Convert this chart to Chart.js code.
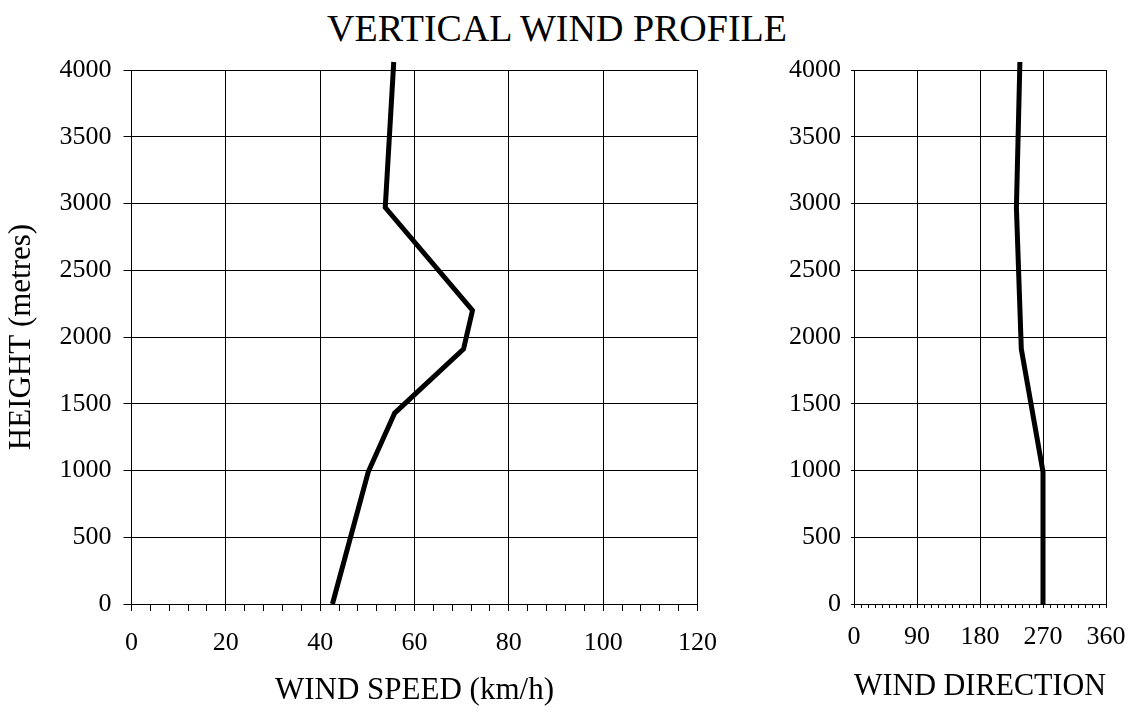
<!DOCTYPE html>
<html>
<head>
<meta charset="utf-8">
<script src="https://cdn.jsdelivr.net/npm/chart.js@4.4.0/dist/chart.umd.min.js"></script>
<style>
  body { margin: 0; background: #fff; }
  #wrap { position: relative; width: 1137px; height: 713px; overflow: hidden; }
  #title { position: absolute; left: 0; top: 5px; width: 1114px; text-align: center;
           font-family: "Liberation Serif", serif; font-size: 38px; line-height: 46px; color: #000; }
  #speedChart { position: absolute; left: 0; top: 0; }
  #dirChart { position: absolute; left: 740px; top: 0; }
</style>
</head>
<body>
<div id="wrap">
  <div id="title">VERTICAL WIND PROFILE</div>
  <canvas id="speedChart" width="740" height="713"></canvas>
  <canvas id="dirChart" width="397" height="713"></canvas>
</div>
<script>
// высоты и значения
const speedHeights = [0, 990, 1430, 1910, 2200, 2970, 4060];
const speedValues = [42.6, 50.2, 55.8, 70.4, 72.3, 53.8, 55.6];
const dirHeights = [0, 990, 1910, 2970, 4060];
const dirValues = [270, 270, 239, 232, 237];

const speedTicks = [0, 20, 40, 60, 80, 100, 120];
const dirTicks = [0, 90, 180, 270, 360];
const heightTicks = [0, 500, 1000, 1500, 2000, 2500, 3000, 3500, 4000];

const serif = '"Liberation Serif", "Times New Roman", serif';

function toPoints(xs, ys) {
  return xs.map((x, i) => ({ x: x, y: ys[i] }));
}

function renderProfile(canvasId, cfg) {
  const ctx = document.getElementById(canvasId).getContext('2d');
  return new Chart(ctx, {
    type: 'scatter',
    data: {
      datasets: [{
        data: toPoints(cfg.values, cfg.heights),
        showLine: true,
        borderColor: '#000',
        borderWidth: 5,
        pointRadius: 0,
        clip: 12
      }]
    },
    options: {
      responsive: false,
      animation: false,
      layout: { padding: { top: 70, right: cfg.padRight, left: 0, bottom: 0 } },
      plugins: { legend: { display: false }, tooltip: { enabled: false } },
      scales: {
        x: {
          type: 'linear',
          min: 0,
          max: cfg.xMax,
          // мелкие засечки + подписи только на основных
          afterBuildTicks: s => {
            const t = [];
            for (let v = 0; v <= cfg.xMax; v += cfg.minorStep) t.push({ value: v });
            s.ticks = t;
          },
          afterFit: s => {
            s.height = cfg.xHeight;
            s.paddingLeft = 0;
            s.paddingRight = 0;
          },
          border: { color: '#000', width: 1 },
          grid: {
            color: c => (cfg.majors.includes(c.tick.value) ? '#000' : 'rgba(0,0,0,0)'),
            tickColor: '#000',
            tickLength: cfg.xTickLen,
            lineWidth: 1
          },
          ticks: {
            autoSkip: false,
            maxRotation: 0,
            padding: cfg.xLabelPad,
            color: '#000',
            font: { family: serif, size: 26 },
            callback: v => (cfg.majors.includes(v) ? String(v) : '')
          },
          title: {
            display: true,
            text: cfg.xTitle,
            color: '#000',
            font: { family: serif, size: 31 },
            padding: { top: 0, bottom: cfg.xTitlePad }
          }
        },
        y: {
          type: 'linear',
          min: 0,
          max: 4000,
          afterBuildTicks: s => { s.ticks = heightTicks.map(v => ({ value: v })); },
          afterFit: s => { s.width = cfg.yWidth; },
          border: { color: '#000', width: 1 },
          grid: { color: '#000', tickColor: '#000', tickLength: cfg.yTickLen, lineWidth: 1 },
          ticks: {
            padding: cfg.yLabelPad,
            color: '#000',
            font: { family: serif, size: 26 },
            callback: v => String(v)
          },
          title: {
            display: cfg.yTitle !== '',
            text: cfg.yTitle,
            color: '#000',
            font: { family: serif, size: 31 },
            padding: { top: 3, bottom: 0 }
          }
        }
      }
    }
  });
}

renderProfile('speedChart', {
  values: speedValues, heights: speedHeights,
  xMax: 120, minorStep: 4, majors: speedTicks,
  xTitle: 'WIND SPEED (km/h)', yTitle: 'HEIGHT (metres)',
  yWidth: 131.5, xHeight: 109, padRight: 42.5,
  xTickLen: 7, yTickLen: 8, xLabelPad: 17, yLabelPad: 12, xTitlePad: 4
});

renderProfile('dirChart', {
  values: dirValues, heights: dirHeights,
  xMax: 360, minorStep: 10, majors: dirTicks,
  xTitle: 'WIND DIRECTION', yTitle: '',
  yWidth: 114, xHeight: 109, padRight: 31,
  xTickLen: 4, yTickLen: 3, xLabelPad: 14, yLabelPad: 10, xTitlePad: 8
});
</script>
</body>
</html>
